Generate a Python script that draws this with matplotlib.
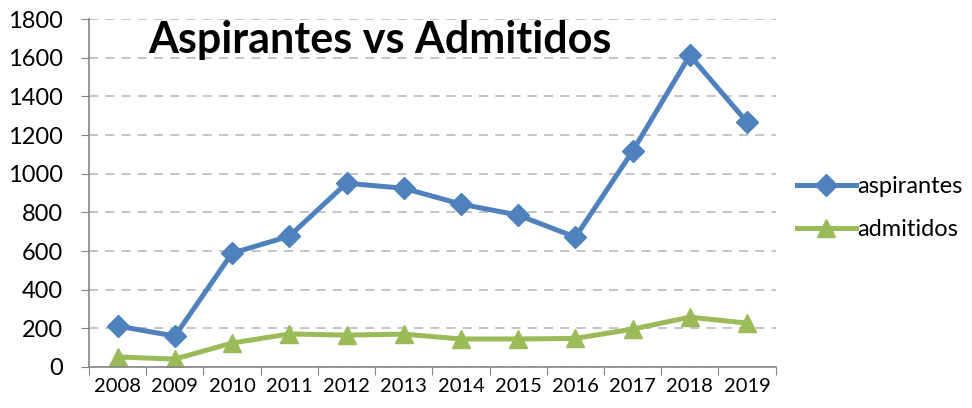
import matplotlib.pyplot as plt
import numpy as np

# Chart data
years = ['2008', '2009', '2010', '2011', '2012', '2013',
         '2014', '2015', '2016', '2017', '2018', '2019']
aspirantes = [212, 160, 589, 677, 951, 925, 843, 786, 672, 1117, 1613, 1267]
admitidos = [52, 41, 124, 171, 165, 170, 145, 145, 148, 196, 258, 227]

plt.rcParams['font.family'] = ['Lato', 'DejaVu Sans']

fig = plt.figure(figsize=(9.72, 4.08), dpi=100)
ax = fig.add_axes([0.0916, 0.1005, 0.7064, 0.8525])

x = np.arange(len(years))
ax.plot(x, aspirantes, color='#4F81BD', linewidth=3.6, marker='D',
        markersize=11, label='aspirantes')
ax.plot(x, admitidos, color='#9BBB59', linewidth=3.6, marker='^',
        markersize=13, label='admitidos')

# Axes setup (Excel look)
ax.set_ylim(0, 1800)
ax.set_yticks(np.arange(0, 1801, 200))
ax.set_xlim(-0.5, len(years) - 0.5)
ax.set_xticks(np.arange(-0.5, len(years), 1.0))
ax.set_xticklabels([])
ax.set_xticks(x, minor=True)
ax.set_xticklabels(years, minor=True)
ax.tick_params(axis='x', which='minor', length=0, labelsize=14.5, pad=8)
ax.tick_params(axis='x', which='major', length=6, color='#868686', direction='out')
ax.tick_params(axis='y', length=6, color='#868686', labelsize=17, pad=13)

for s in ['top', 'right']:
    ax.spines[s].set_visible(False)
for s in ['left', 'bottom']:
    ax.spines[s].set_color('#868686')
    ax.spines[s].set_linewidth(1.2)

ax.grid(axis='y', linestyle=(0, (5, 4)), color='#BFBFBF', linewidth=1.3)
ax.set_axisbelow(True)

ax.text(0.086, 0.94, 'Aspirantes vs Admitidos', transform=ax.transAxes,
        fontsize=31, fontweight='bold', va='center', ha='left')

ax.legend(loc='center left', bbox_to_anchor=(1.0, 0.457), frameon=False,
          fontsize=17, handlelength=2.5, handletextpad=0.05, labelspacing=0.95)

fig.savefig('out.png', dpi=100)
